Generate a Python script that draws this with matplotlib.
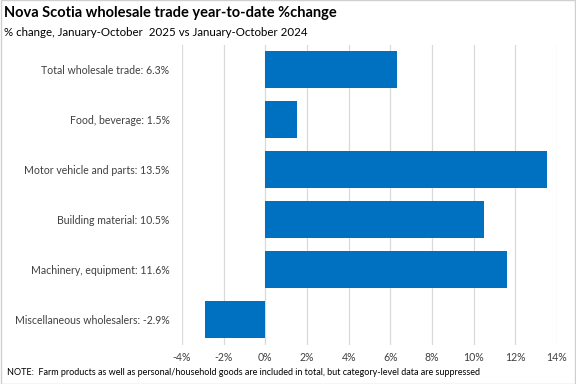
import matplotlib.pyplot as plt
from matplotlib.patches import Rectangle

categories = ["Total wholesale trade", "Food, beverage", "Motor vehicle and parts",
              "Building material", "Machinery, equipment", "Miscellaneous wholesalers"]
values = [6.3, 1.5, 13.5, 10.5, 11.6, -2.9]
ticks = [-4, -2, 0, 2, 4, 6, 8, 10, 12, 14]

plt.rcParams['font.family'] = ['Lato', 'DejaVu Sans']

fig = plt.figure(figsize=(5.76, 3.84), dpi=100)
ax = fig.add_axes([0.316, 0.102, 0.651, 0.781])

labels = [f"{c}: {v}%" for c, v in zip(categories, values)]
pos = list(range(len(values)))
ax.barh(pos, values, height=0.74, color='#0070C0', zorder=3)
ax.set_yticks(pos)
ax.set_yticklabels(labels, fontsize=7.6)
ax.set_ylim(len(values) - 0.5, -0.5)

ax.set_xlim(-4, 14)
ax.set_xticks(ticks)
ax.set_xticklabels([f"{t}%" for t in ticks], fontsize=7.6, color='#404040')
ax.grid(axis='x', color='#d9d9d9', linewidth=0.9, zorder=0)
for s in ax.spines.values():
    s.set_visible(False)
ax.tick_params(length=0)
ax.tick_params(axis='x', pad=5)
ax.tick_params(axis='y', pad=9, colors='#404040')

fig.text(0.007, 0.985, "Nova Scotia wholesale trade year-to-date %change",
         fontsize=10.5, fontweight='bold', va='top', ha='left')
fig.text(0.007, 0.93, "% change, January-October  2025 vs January-October 2024",
         fontsize=8.3, va='top', ha='left')
fig.text(0.012, 0.018, "NOTE:  Farm products as well as personal/household goods are included in total, but category-level data are suppressed",
         fontsize=6.5, va='bottom', ha='left')

fig.add_artist(Rectangle((0.001, 0.001), 0.998, 0.998, transform=fig.transFigure,
                         fill=False, edgecolor='#d0d0d0', linewidth=1))

plt.savefig('out.png', dpi=100)
plt.close()
